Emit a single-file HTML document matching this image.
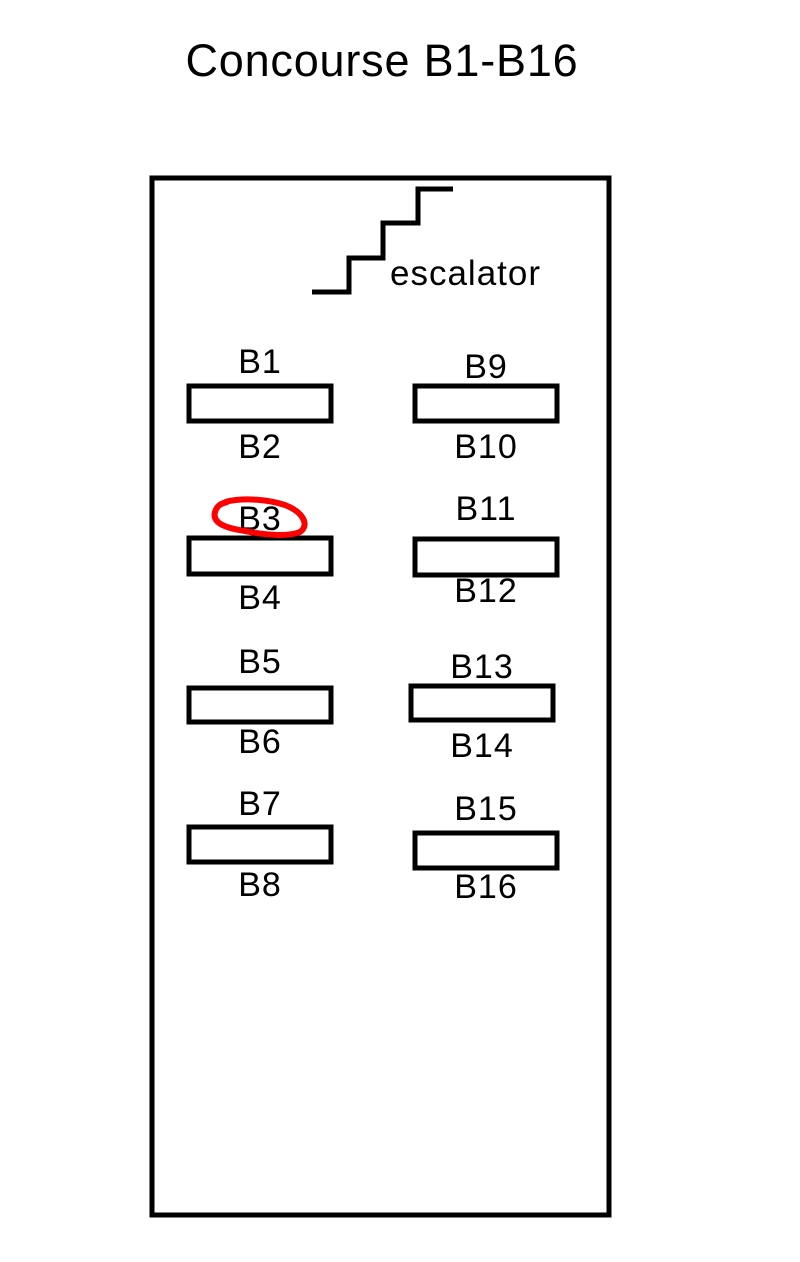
<!DOCTYPE html>
<html><head><style>body{margin:0;background:#fff}svg{display:block}text{font-family:"Liberation Sans",sans-serif;fill:#000}</style></head><body>
<svg width="800" height="1262" viewBox="0 0 800 1262">
<text x="382" y="76" font-size="45" text-anchor="middle" letter-spacing="0.8">Concourse B1-B16</text>
<rect x="152" y="178" width="457" height="1037" fill="none" stroke="#000" stroke-width="5"/>
<polyline points="312,292 349,292 349,258 383,258 383,223 418,223 418,189 453,189" fill="none" stroke="#000" stroke-width="5"/>
<text x="390" y="285" font-size="35" letter-spacing="1">escalator</text>
<g fill="none" stroke="#000" stroke-width="5">
<rect x="189" y="386" width="142" height="35"/>
<rect x="189" y="538" width="142" height="36"/>
<rect x="189" y="688" width="142" height="34"/>
<rect x="189" y="827" width="142" height="35"/>
<rect x="415" y="386" width="142" height="35"/>
<rect x="415" y="539" width="142" height="36"/>
<rect x="411" y="686" width="142" height="34"/>
<rect x="415" y="833" width="142" height="35"/>
</g>
<g font-size="34" text-anchor="middle" letter-spacing="1">
<text x="260" y="373">B1</text><text x="260" y="458">B2</text>
<text x="260" y="530">B3</text><text x="260" y="609">B4</text>
<text x="260" y="673">B5</text><text x="260" y="753">B6</text>
<text x="260" y="815">B7</text><text x="260" y="896">B8</text>
<text x="486" y="378">B9</text><text x="486" y="458">B10</text>
<text x="486" y="520">B11</text><text x="486" y="602">B12</text>
<text x="482" y="678">B13</text><text x="482" y="757">B14</text>
<text x="486" y="820">B15</text><text x="486" y="898">B16</text>
</g>
<path d="M225,502 C245,497 270,500 285,505 C303,512 310,525 300,532 C288,537 265,535 245,531 C225,528 212,523 215,512 C217,505 222,503 228,502" fill="none" stroke="#f00" stroke-width="6"/>
</svg>
</body></html>
